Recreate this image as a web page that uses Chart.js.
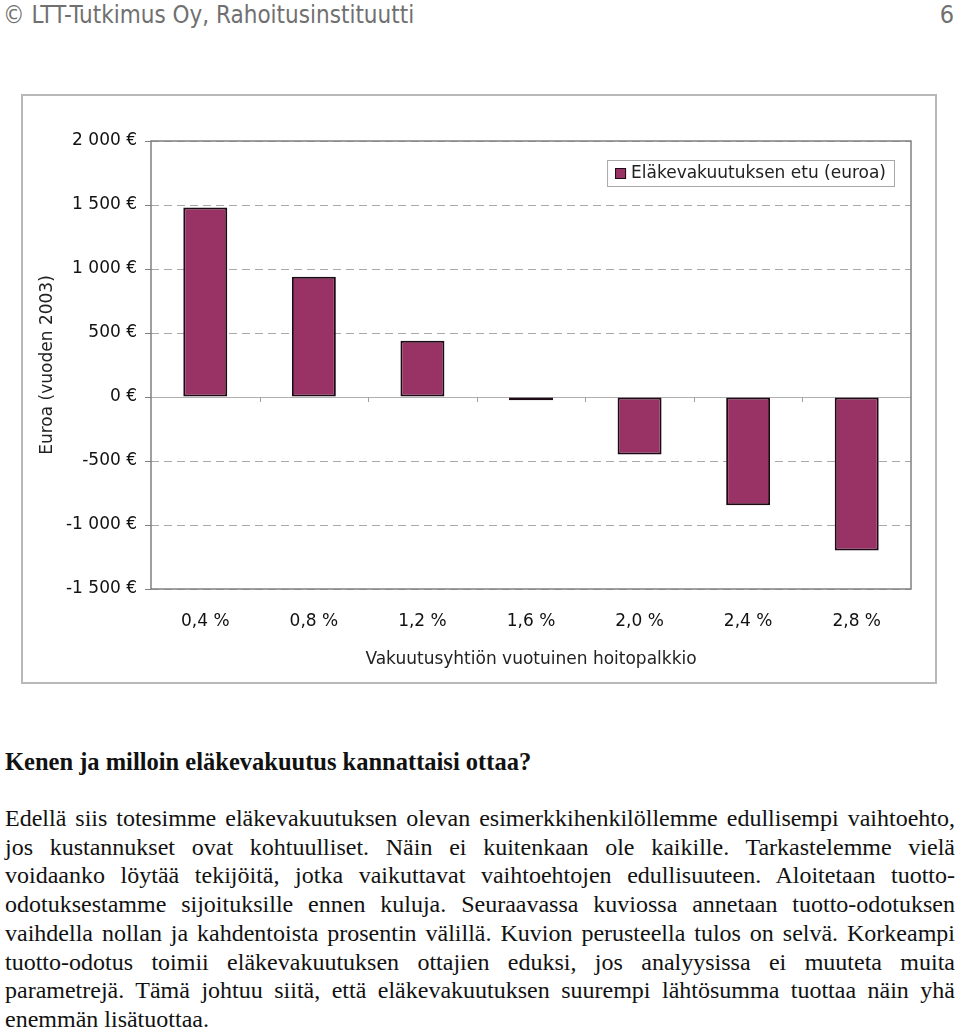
<!DOCTYPE html>
<html>
<head>
<meta charset="utf-8">
<script src="https://cdn.jsdelivr.net/npm/chart.js@4"></script>
<style>
  body { margin: 0; background: #fff; width: 960px; height: 1027px; position: relative; overflow: hidden; }
  #header { position: absolute; left: 3px; top: 0; font-family: "Liberation Sans Narrow", "DejaVu Sans Condensed", sans-serif; font-size: 24px; color: #707070; line-height: 30px; }
  #pagenum { position: absolute; right: 6px; top: 0; font-family: "Liberation Sans Narrow", "DejaVu Sans Condensed", sans-serif; font-size: 25px; color: #707070; line-height: 30px; }
  #chartBox { position: absolute; left: 21px; top: 94px; width: 916px; height: 590px; border: 2px solid #b8b8b8; box-sizing: border-box; }
  #chartWrap { position: relative; width: 912px; height: 586px; }
  #text { position: absolute; left: 5px; top: 748px; width: 950px; font-family: "Liberation Serif", "Times New Roman", serif; font-size: 24px; line-height: 28.75px; color: #111; }
  #text h2 { font-size: 24.5px; font-weight: bold; margin: 0 0 27px 0; line-height: 28.75px; }
  .ln { white-space: nowrap; text-align: justify; text-align-last: justify; }
  .last { text-align-last: left; }
</style>
</head>
<body>
<div id="header">© LTT-Tutkimus Oy, Rahoitusinstituutti</div>
<div id="pagenum">6</div>
<div id="chartBox"><div id="chartWrap"><canvas id="benefitChart"></canvas></div></div>
<div id="text">
  <h2>Kenen ja milloin eläkevakuutus kannattaisi ottaa?</h2>
  <div class="ln">Edellä siis totesimme eläkevakuutuksen olevan esimerkkihenkilöllemme edullisempi vaihtoehto,</div>
  <div class="ln">jos kustannukset ovat kohtuulliset. Näin ei kuitenkaan ole kaikille. Tarkastelemme vielä</div>
  <div class="ln">voidaanko löytää tekijöitä, jotka vaikuttavat vaihtoehtojen edullisuuteen. Aloitetaan tuotto-</div>
  <div class="ln">odotuksestamme sijoituksille ennen kuluja. Seuraavassa kuviossa annetaan tuotto-odotuksen</div>
  <div class="ln">vaihdella nollan ja kahdentoista prosentin välillä. Kuvion perusteella tulos on selvä. Korkeampi</div>
  <div class="ln">tuotto-odotus toimii eläkevakuutuksen ottajien eduksi, jos analyysissa ei muuteta muita</div>
  <div class="ln">parametrejä. Tämä johtuu siitä, että eläkevakuutuksen suurempi lähtösumma tuottaa näin yhä</div>
  <div class="ln last">enemmän lisätuottaa.</div>
</div>
<script>
let categories = ['0,4 %', '0,8 %', '1,2 %', '1,6 %', '2,0 %', '2,4 %', '2,8 %'];
let benefitValues = [1480, 940, 440, -25, -450, -845, -1200];
let seriesLabel = 'Eläkevakuutuksen etu (euroa)';
let yTickValues = [-1500, -1000, -500, 0, 500, 1000, 1500, 2000];
let yTickLabels = ['-1 500 €', '-1 000 €', '-500 €', '0 €', '500 €', '1 000 €', '1 500 €', '2 000 €'];
let xTitle = 'Vakuutusyhtiön vuotuinen hoitopalkkio';
let yTitle = 'Euroa (vuoden 2003)';

let barFill = '#993366';
let barEdge = '#1e0a14';
let fontName = '"DejaVu Sans", sans-serif';
let fontSize = 17;

// frame round the plot, small ticks on the zero line, boxed legend
let framePlugin = {
    id: 'frame',
    afterDatasetsDraw(chart) {
        let ctx = chart.ctx;
        let a = chart.chartArea;
        let x = chart.scales.x;
        let y0 = chart.scales.y.getPixelForValue(0);
        ctx.save();
        ctx.strokeStyle = '#a0a0a0';
        ctx.lineWidth = 1;
        for (let i = 1; i < categories.length; i++) {
            let px = Math.round((x.getPixelForTick(i - 1) + x.getPixelForTick(i)) / 2) + 0.5;
            ctx.beginPath();
            ctx.moveTo(px, y0);
            ctx.lineTo(px, y0 + 5);
            ctx.stroke();
        }
        ctx.strokeStyle = '#808080';
        ctx.lineWidth = 1.5;
        ctx.strokeRect(a.left, a.top, a.right - a.left, a.bottom - a.top);

        // legend
        ctx.font = fontSize + 'px ' + fontName;
        let tw = ctx.measureText(seriesLabel).width;
        let boxW = tw + 32, boxH = 26;
        let bx = a.right - 17 - boxW, by = a.top + 19;
        ctx.fillStyle = '#fff';
        ctx.fillRect(bx, by, boxW, boxH);
        ctx.strokeStyle = '#a8a8a8';
        ctx.lineWidth = 1;
        ctx.strokeRect(bx + 0.5, by + 0.5, boxW, boxH);
        ctx.fillStyle = barFill;
        ctx.fillRect(bx + 8, by + 8, 11, 11);
        ctx.strokeStyle = barEdge;
        ctx.strokeRect(bx + 8.5, by + 8.5, 10, 10);
        ctx.fillStyle = '#222';
        ctx.textBaseline = 'middle';
        ctx.fillText(seriesLabel, bx + 24, by + boxH / 2 + 1);
        ctx.restore();
    }
};

let chart = new Chart(document.getElementById('benefitChart'), {
    type: 'bar',
    data: {
        labels: categories,
        datasets: [{
            label: seriesLabel,
            data: benefitValues,
            backgroundColor: barFill,
            borderColor: barEdge,
            borderWidth: 2,
            borderSkipped: false,
            barPercentage: 0.405,
            categoryPercentage: 1.0
        }]
    },
    options: {
        responsive: true,
        maintainAspectRatio: false,
        animation: false,
        layout: { padding: { top: 45, right: 24, left: 0, bottom: 0 } },
        plugins: { legend: { display: false }, tooltip: { enabled: false } },
        scales: {
            x: {
                grid: { display: false, drawTicks: false },
                border: { display: false },
                ticks: { color: '#111', font: { family: fontName, size: fontSize }, padding: 22 },
                title: { display: true, text: xTitle, color: '#222', font: { family: fontName, size: fontSize }, padding: { top: 0, bottom: 12 } },
                afterFit: (s) => { s.height = 93; }
            },
            y: {
                min: -1500,
                max: 2000,
                afterBuildTicks: (s) => { s.ticks = yTickValues.map((v) => ({ value: v })); },
                grid: {
                    color: (c) => c.tick && c.tick.value === 0 ? '#b0b0b0' : '#a8a8a8',
                    lineWidth: 1,
                    tickLength: 6,
                    tickColor: '#808080'
                },
                border: { display: false, dash: (c) => c.tick && c.tick.value === 0 ? [] : [8, 5] },
                ticks: {
                    color: '#111',
                    font: { family: fontName, size: fontSize },
                    padding: 8,
                    callback: (v) => yTickLabels[yTickValues.indexOf(v)]
                },
                title: { display: true, text: yTitle, color: '#222', font: { family: fontName, size: fontSize }, padding: { top: 14, bottom: 0 } },
                afterFit: (s) => { s.width = 128; }
            }
        }
    },
    plugins: [framePlugin]
});
</script>
</body>
</html>
